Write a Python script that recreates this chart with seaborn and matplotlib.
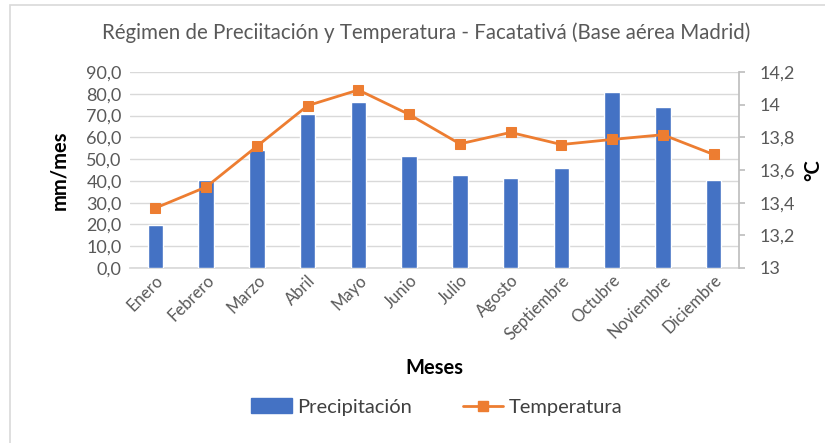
import matplotlib
matplotlib.use("Agg")
import matplotlib.pyplot as plt
import seaborn as sns
import pandas as pd
import numpy as np
from matplotlib.lines import Line2D
from matplotlib.patches import Patch

meses = ["Enero", "Febrero", "Marzo", "Abril", "Mayo", "Junio", "Julio",
         "Agosto", "Septiembre", "Octubre", "Noviembre", "Diciembre"]
precipitacion = [19.6, 40.6, 54.1, 70.8, 76.3, 51.3, 42.9, 41.1, 45.8, 81.0, 73.7, 40.6]
temperatura = [13.367, 13.496, 13.745, 13.994, 14.09, 13.94, 13.76, 13.83, 13.756, 13.787, 13.816, 13.695]
left_ticks = [0, 10, 20, 30, 40, 50, 60, 70, 80, 90]
right_ticks = [13.0, 13.2, 13.4, 13.6, 13.8, 14.0, 14.2]
right_labels = ["13", "13,2", "13,4", "13,6", "13,8", "14", "14,2"]

sns.set_theme(style="white")
plt.rcParams['font.family'] = ['Lato', 'DejaVu Sans']

BLUE = "#4472C4"
ORANGE = "#ED7D31"
GRAY = "#595959"
GRID = "#D9D9D9"

df = pd.DataFrame({"Mes": meses, "Precipitación": precipitacion, "Temperatura": temperatura})

fig = plt.figure(figsize=(8.25, 4.43), dpi=100)
ax = fig.add_axes([130/825, 1-268/443, (739-130)/825, (268-72)/443])

sns.barplot(data=df, x="Mes", y="Precipitación", color=BLUE, width=0.31,
            saturation=1, ax=ax, zorder=3)
ax.set_ylim(0, 90)
ax.set_yticks(left_ticks)
ax.set_yticklabels([f"{v:.1f}".replace(".", ",") for v in left_ticks], color=GRAY, fontsize=13)
ax.yaxis.grid(True, color=GRID, linewidth=1, zorder=0)
ax.set_axisbelow(True)
for s in ["top", "right", "left"]:
    ax.spines[s].set_visible(False)
ax.spines["bottom"].set_color(GRID)
ax.tick_params(axis="y", length=0, pad=6)
ax.tick_params(axis="x", length=0, pad=3)
ax.set_xticks(range(len(meses)))
ax.set_xticklabels(meses, rotation=45, ha="right", rotation_mode="anchor", color=GRAY, fontsize=12)
ax.set_xlim(-0.5, len(meses) - 0.5)
ax.set_ylabel("mm/mes", fontsize=14.5, fontweight="bold", color="black", labelpad=12)
ax.set_xlabel("Meses", fontsize=14.5, fontweight="bold", color="black", labelpad=11)

ax2 = ax.twinx()
sns.lineplot(x=np.arange(len(meses)), y=temperatura, color=ORANGE, marker="s",
             markersize=7.5, markeredgecolor=ORANGE, linewidth=2, ax=ax2, zorder=4)
ax2.set_ylim(13.0, 14.2)
ax2.set_yticks(right_ticks)
ax2.set_yticklabels(right_labels, color=GRAY, fontsize=13)
for s in ["top", "left", "bottom"]:
    ax2.spines[s].set_visible(False)
ax2.spines["right"].set_color("#BFBFBF")
ax2.tick_params(axis="y", length=4, color="#BFBFBF", pad=11, direction="out")
ax2.set_ylabel("°C", fontsize=14.5, fontweight="bold", color="black", rotation=90, labelpad=6)
ax2.grid(False)

fig.suptitle("Régimen de Preciitación y Temperatura - Facatativá (Base aérea Madrid)",
             x=426/825, y=1-33/443, va="center", fontsize=14.8, color=GRAY)

handles = [Patch(facecolor=BLUE, edgecolor=BLUE),
           Line2D([0], [0], color=ORANGE, linewidth=2, marker="s", markersize=7.5)]
fig.legend(handles, ["Precipitación", "Temperatura"], loc="center",
           bbox_to_anchor=(437/825, 1-407/443), ncol=2, frameon=False,
           fontsize=14.5, handlelength=2.0, handletextpad=0.3, columnspacing=2.5,
           labelcolor="#404040")

frame = plt.Rectangle((10/825, -0.05), 1.1, 1 - 5/443 + 0.05, transform=fig.transFigure,
                      fill=False, edgecolor="#D9D9D9", linewidth=1.2)
fig.patches.append(frame)

fig.savefig("out.png", dpi=100)
